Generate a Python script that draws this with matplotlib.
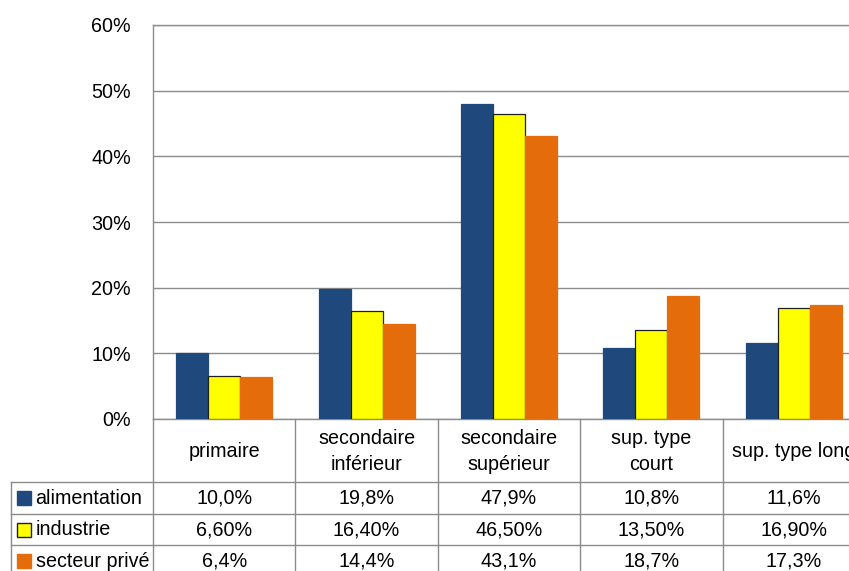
import numpy as np
import matplotlib.pyplot as plt

plt.rcParams['font.family'] = ['Liberation Sans', 'DejaVu Sans']

categories = ["primaire", "secondaire\ninférieur", "secondaire\nsupérieur",
              "sup. type\ncourt", "sup. type long"]
series = ["alimentation", "industrie", "secteur privé"]
alimentation = [10.0, 19.8, 47.9, 10.8, 11.6]
industrie = [6.6, 16.4, 46.5, 13.5, 16.9]
secteur_prive = [6.4, 14.4, 43.1, 18.7, 17.3]
decimals = [1, 2, 1]
yticks = [0, 10, 20, 30, 40, 50, 60]

values = [alimentation, industrie, secteur_prive]
colors = ["#1f497d", "#ffff00", "#e46c0a"]
edges = ["#1f497d", "#202020", "#e46c0a"]
grid_c = "#8c8c8c"
fs = 14.2

W, H = 849, 571
fig = plt.figure(figsize=(W / 100, H / 100), dpi=100)

# plot area in pixels: left 153, top 25, bottom 419, one category = 142.4 px
cat_w = 142.4
x0, y_top, y_base = 153, 25, 419
ax = fig.add_axes([x0 / W, 1 - y_base / H, 5 * cat_w / W, (y_base - y_top) / H])

n = len(categories)
x = np.arange(n) + 0.5
bw = 0.225
for k, (vals, c, ec) in enumerate(zip(values, colors, edges)):
    ax.bar(x + (k - 1) * bw, vals, bw, color=c, edgecolor=ec, linewidth=0.9, zorder=3)

ax.set_xlim(0, n)
ax.set_ylim(0, 60)
ax.set_yticks(yticks)
ax.set_yticklabels([f"{t}%" for t in yticks], fontsize=fs)
ax.set_xticks([])
ax.tick_params(axis='y', length=0, pad=16)
ax.yaxis.grid(True, color=grid_c, linewidth=1.0, zorder=0)
for s in ["left", "top", "bottom"]:
    ax.spines[s].set_color(grid_c)
    ax.spines[s].set_linewidth(1.0)
ax.spines["right"].set_visible(False)

# data table below the plot: header 2 units, each row 1 unit
row_h = 31.6
tx0 = x0 - cat_w
tb = fig.add_axes([tx0 / W, 1 - (y_base + 5 * row_h) / H, 6 * cat_w / W, 5 * row_h / H])
tb.set_xlim(-1, n)
tb.set_ylim(5, 0)
tb.axis("off")

lc = "#8c8c8c"
for yy in [2, 3, 4, 5]:
    tb.plot([-1, n], [yy, yy], color=lc, lw=1.0, clip_on=False)
tb.plot([-1, -1], [2, 5], color=lc, lw=1.0, clip_on=False)
for xx in range(0, n + 1):
    tb.plot([xx, xx], [0, 5], color=lc, lw=1.0, clip_on=False)

for i, cat in enumerate(categories):
    tb.text(i + 0.5, 1.03, cat, ha="center", va="center", fontsize=fs, linespacing=1.45)

for r, (name, vals, c, ec, d) in enumerate(zip(series, values, colors, edges, decimals)):
    yc = 2.5 + r
    tb.add_patch(plt.Rectangle((-0.957, yc - 0.22), 0.1, 0.44, facecolor=c,
                               edgecolor=ec if r == 1 else c, lw=1.0))
    tb.text(-0.825, yc, name, ha="left", va="center", fontsize=fs)
    for i, v in enumerate(vals):
        label = f"{v:.{d}f}%".replace(".", ",")
        tb.text(i + 0.5, yc, label, ha="center", va="center", fontsize=fs)

fig.savefig("out.png", dpi=100)
